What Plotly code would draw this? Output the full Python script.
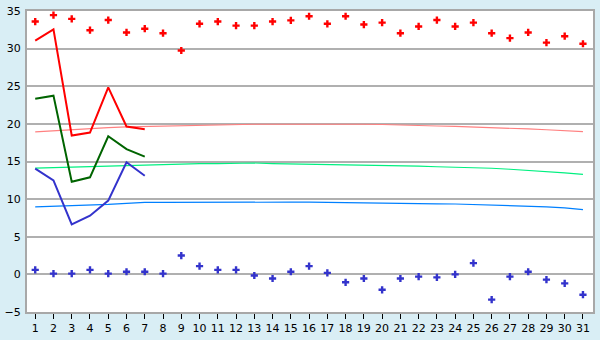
import plotly.graph_objects as go

days = list(range(1, 32))

rec_max = [33.6, 34.45, 33.95, 32.45, 33.8, 32.15, 32.65, 32.05, 29.75, 33.3,
           33.6, 33.05, 33.05, 33.6, 33.75, 34.3, 33.3, 34.3, 33.2, 33.45,
           32.05, 32.95, 33.8, 32.95, 33.45, 32.05, 31.4, 32.15, 30.8, 31.65, 30.65]
rec_min = [0.6, 0.1, 0.1, 0.6, 0.1, 0.35, 0.35, 0.1, 2.5, 1.1,
           0.6, 0.6, -0.15, -0.55, 0.35, 1.1, 0.2, -1.05, -0.55, -2.05,
           -0.55, -0.3, -0.4, 0.0, 1.5, -3.35, -0.3, 0.35, -0.7, -1.2, -2.7]

obs_days = [1, 2, 3, 4, 5, 6, 7]
obs_max = [31.05, 32.55, 18.45, 18.85, 24.85, 19.65, 19.3]
obs_mean = [23.35, 23.75, 12.3, 12.9, 18.35, 16.65, 15.65]
obs_min = [14.05, 12.5, 6.65, 7.8, 9.8, 14.9, 13.1]

norm_max = [18.95, 19.1, 19.25, 19.4, 19.5, 19.6, 19.65, 19.7, 19.8, 19.85,
            19.9, 19.95, 19.95, 19.95, 19.97, 19.97, 19.97, 19.97, 19.95, 19.92,
            19.88, 19.8, 19.72, 19.66, 19.6, 19.5, 19.42, 19.33, 19.22, 19.1, 18.97]
norm_mean = [14.13, 14.2, 14.3, 14.39, 14.45, 14.52, 14.6, 14.65, 14.7, 14.72,
             14.72, 14.78, 14.8, 14.72, 14.68, 14.68, 14.66, 14.6, 14.56, 14.5,
             14.43, 14.39, 14.3, 14.26, 14.18, 14.1, 13.97, 13.84, 13.67, 13.5, 13.3]
norm_min = [8.98, 9.06, 9.08, 9.15, 9.3, 9.44, 9.56, 9.56, 9.58, 9.58,
            9.6, 9.6, 9.6, 9.6, 9.6, 9.6, 9.6, 9.6, 9.5, 9.48,
            9.48, 9.46, 9.38, 9.35, 9.28, 9.23, 9.15, 9.1, 8.98, 8.85, 8.6]

fig = go.Figure()

fig.add_trace(go.Scatter(x=days, y=norm_max, mode="lines",
                         line=dict(color="#ff8080", width=1.2), hoverinfo="skip"))
fig.add_trace(go.Scatter(x=days, y=norm_mean, mode="lines",
                         line=dict(color="#00f080", width=1.2), hoverinfo="skip"))
fig.add_trace(go.Scatter(x=days, y=norm_min, mode="lines",
                         line=dict(color="#0080ff", width=1.2), hoverinfo="skip"))

fig.add_trace(go.Scatter(x=obs_days, y=obs_max, mode="lines",
                         line=dict(color="#ff0000", width=2)))
fig.add_trace(go.Scatter(x=obs_days, y=obs_mean, mode="lines",
                         line=dict(color="#006400", width=2)))
fig.add_trace(go.Scatter(x=obs_days, y=obs_min, mode="lines",
                         line=dict(color="#3333cc", width=2)))

fig.add_trace(go.Scatter(x=days, y=rec_max, mode="markers",
                         marker=dict(symbol="cross", size=6, color="#ff0000",
                                     line=dict(width=0))))
fig.add_trace(go.Scatter(x=days, y=rec_min, mode="markers",
                         marker=dict(symbol="cross", size=6, color="#3333cc",
                                     line=dict(width=0))))

fig.update_layout(
    width=600, height=340,
    margin=dict(l=21, r=5, t=5, b=20),
    paper_bgcolor="#d9eef5",
    plot_bgcolor="#ffffff",
    showlegend=False,
    font=dict(family="DejaVu Sans", size=11, color="#000000"),
)
fig.update_xaxes(
    range=[0.55, 31.55], tickmode="array", tickvals=days,
    ticktext=[str(d) for d in days],
    showgrid=False, zeroline=False,
    showline=True, linecolor="#a8a8a8", linewidth=2, mirror=True,
    ticks="outside", ticklen=5, tickcolor="#000000", tickwidth=1,
    tickfont=dict(size=11),
)
fig.update_yaxes(
    range=[-5, 35], tickmode="array", tickvals=[-5, 0, 5, 10, 15, 20, 25, 30, 35],
    showgrid=True, gridcolor="#b0b0b0", gridwidth=1.5, zeroline=False,
    showline=True, linecolor="#a8a8a8", linewidth=2, mirror=True,
    ticks="", ticklabelstandoff=2,
    tickfont=dict(size=11),
)

fig.write_html("out.html")
